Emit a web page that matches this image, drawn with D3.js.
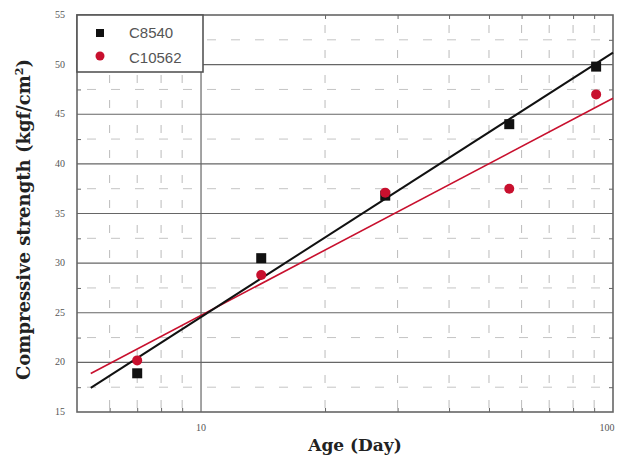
<!DOCTYPE html>
<html>
<head>
<meta charset="utf-8">
<script src="https://cdn.jsdelivr.net/npm/d3@7"></script>
<style>
  body { margin: 0; background: #fff; }
  svg { display: block; }
</style>
</head>
<body>
<div id="chart"></div>
<script>
// data
const ages = [7, 14, 28, 56, 91];
const c8540 = [18.9, 30.5, 36.8, 44.0, 49.8];
const c10562 = [20.2, 28.8, 37.1, 37.5, 47.0];
const yTicks = [15, 20, 25, 30, 35, 40, 45, 50, 55];
const xLabels = [10, 100];
const fitRange = [5.4, 100];

const width = 622, height = 463;
const margin = { top: 15, right: 9, bottom: 51, left: 77 };

const svg = d3.select("#chart").append("svg")
  .attr("width", width)
  .attr("height", height);

const x = d3.scaleLog().domain([5, 100]).range([margin.left, width - margin.right]);
const y = d3.scaleLinear().domain([15, 55]).range([height - margin.bottom, margin.top]);

const minorX = [6, 7, 8, 9, 20, 30, 40, 50, 60, 70, 80, 90];
const minorY = d3.range(17.5, 55, 5);

const g = svg.append("g");

// dashed minor grid
g.selectAll(".mx").data(minorX).join("line")
  .attr("x1", d => x(d)).attr("x2", d => x(d))
  .attr("y1", y(15)).attr("y2", y(55))
  .attr("stroke", "#bbb").attr("stroke-width", 1)
  .attr("stroke-dasharray", "8,17").attr("stroke-dashoffset", -4);

g.selectAll(".my").data(minorY).join("line")
  .attr("x1", x(5)).attr("x2", x(100))
  .attr("y1", d => y(d)).attr("y2", d => y(d))
  .attr("stroke", "#c4c4c4").attr("stroke-width", 1)
  .attr("stroke-dasharray", "9,15").attr("stroke-dashoffset", -10);

// major grid
g.selectAll(".hy").data(yTicks.slice(1, -1)).join("line")
  .attr("x1", x(5)).attr("x2", x(100))
  .attr("y1", d => y(d)).attr("y2", d => y(d))
  .attr("stroke", "#666").attr("stroke-width", 1.2);

g.append("line")
  .attr("x1", x(10)).attr("x2", x(10))
  .attr("y1", y(15)).attr("y2", y(55))
  .attr("stroke", "#666").attr("stroke-width", 1.2);

// frame
g.append("rect")
  .attr("x", x(5)).attr("y", y(55))
  .attr("width", x(100) - x(5)).attr("height", y(15) - y(55))
  .attr("fill", "none").attr("stroke", "#666").attr("stroke-width", 1.6);

// axes with inward ticks
const axB = svg.append("g").attr("transform", `translate(0,${y(15)})`)
  .call(d3.axisBottom(x).tickValues(minorX).tickSize(-4).tickFormat(""));
const axT = svg.append("g").attr("transform", `translate(0,${y(55)})`)
  .call(d3.axisTop(x).tickValues(minorX).tickSize(-4).tickFormat(""));
const axL = svg.append("g").attr("transform", `translate(${x(5)},0)`)
  .call(d3.axisLeft(y).tickValues(minorY).tickSize(-4).tickFormat(""));
const axR = svg.append("g").attr("transform", `translate(${x(100)},0)`)
  .call(d3.axisRight(y).tickValues(minorY).tickSize(-4).tickFormat(""));
[axB, axT, axL, axR].forEach(a => {
  a.select(".domain").remove();
  a.selectAll(".tick line").attr("stroke", "#666");
});

// tick labels
svg.append("g").selectAll("text").data(yTicks).join("text")
  .attr("x", x(5) - 12).attr("y", d => y(d) + 3)
  .attr("text-anchor", "end")
  .attr("font-family", "Liberation Serif, serif").attr("font-size", 10)
  .attr("fill", "#555")
  .text(d => d);

svg.append("g").selectAll("text").data(xLabels).join("text")
  .attr("x", d => x(d) + (d === 100 ? -6 : 0)).attr("y", y(15) + 19)
  .attr("text-anchor", "middle")
  .attr("font-family", "Liberation Serif, serif").attr("font-size", 10)
  .attr("fill", "#555")
  .text(d => d);

// regression lines (log fit)
function logFit(xs, ys) {
  const lx = xs.map(Math.log10);
  const mx = d3.mean(lx), my = d3.mean(ys);
  const b = d3.sum(lx, (v, i) => (v - mx) * (ys[i] - my)) / d3.sum(lx, v => (v - mx) ** 2);
  return v => my + b * (Math.log10(v) - mx);
}
const line = d3.line().x(d => x(d[0])).y(d => y(d[1]));
const fitB = logFit(ages, c8540);
const fitR = logFit(ages, c10562);

svg.append("path")
  .attr("d", line(fitRange.map(v => [v, fitR(v)])))
  .attr("stroke", "#c8102e").attr("stroke-width", 1.6).attr("fill", "none");
svg.append("path")
  .attr("d", line(fitRange.map(v => [v, fitB(v)])))
  .attr("stroke", "#111").attr("stroke-width", 2).attr("fill", "none");

// markers
svg.append("g").selectAll("rect").data(ages).join("rect")
  .attr("x", (d, i) => x(d) - 5).attr("y", (d, i) => y(c8540[i]) - 5)
  .attr("width", 10).attr("height", 10)
  .attr("fill", "#111");
svg.append("g").selectAll("circle").data(ages).join("circle")
  .attr("cx", d => x(d)).attr("cy", (d, i) => y(c10562[i]))
  .attr("r", 5)
  .attr("fill", "#c8102e");

// legend
const lg = svg.append("g");
lg.append("rect")
  .attr("x", x(5)).attr("y", y(55))
  .attr("width", 126).attr("height", 57)
  .attr("fill", "#fff").attr("stroke", "#555").attr("stroke-width", 1.6);
lg.append("rect").attr("x", 96).attr("y", 29).attr("width", 8).attr("height", 8).attr("fill", "#111");
lg.append("circle").attr("cx", 100).attr("cy", 56).attr("r", 4.5).attr("fill", "#c8102e");
lg.selectAll("text").data(["C8540", "C10562"]).join("text")
  .attr("x", 129).attr("y", (d, i) => 38 + i * 25)
  .attr("font-family", "Liberation Sans Narrow, Arial Narrow, sans-serif")
  .attr("font-size", 15).attr("fill", "#555")
  .text(d => d);

// axis titles
svg.append("text")
  .attr("x", (x(5) + x(100)) / 2 + 10).attr("y", 451)
  .attr("text-anchor", "middle")
  .attr("font-family", "DejaVu Serif, serif").attr("font-weight", "bold")
  .attr("font-size", 17).attr("fill", "#222")
  .text("Age (Day)");

const yt = svg.append("text")
  .attr("transform", `translate(30,${(y(15) + y(55)) / 2 + 6}) rotate(-90)`)
  .attr("text-anchor", "middle")
  .attr("font-family", "DejaVu Serif, serif").attr("font-weight", "bold")
  .attr("font-size", 18).attr("fill", "#222");
yt.append("tspan").text("Compressive strength (kgf/cm");
yt.append("tspan").attr("dy", -7).attr("font-size", 11).text("2");
yt.append("tspan").attr("dy", 7).text(")");
</script>
</body>
</html>
